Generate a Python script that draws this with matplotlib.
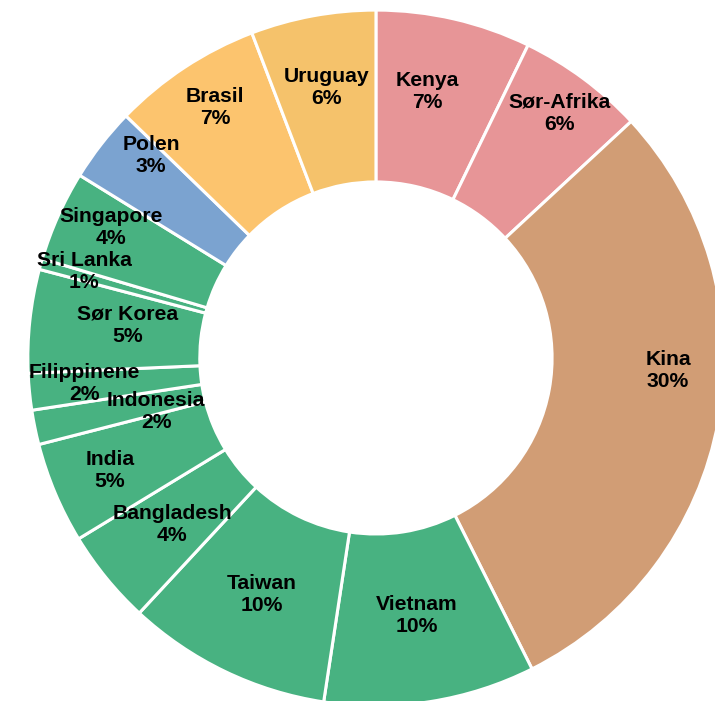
import matplotlib
matplotlib.use('Agg')
import matplotlib.pyplot as plt
import numpy as np

# Shares (clockwise from 12 o'clock)
countries = ['Kenya', 'Sør-Afrika', 'Kina', 'Vietnam', 'Taiwan', 'Bangladesh',
             'India', 'Indonesia', 'Filippinene', 'Sør Korea', 'Sri Lanka',
             'Singapore', 'Polen', 'Brasil', 'Uruguay']
shares = [7.2, 5.9, 29.5, 9.8, 9.5, 4.4, 4.7, 1.6, 1.7, 4.8, 0.5, 4.2, 3.45,
          6.95, 5.8]
pct_text = ['7%', '6%', '30%', '10%', '10%', '4%', '5%', '2%', '2%', '5%',
            '1%', '4%', '3%', '7%', '6%']

# Colours per slice
pink = '#E79597'
tan = '#D19D75'
green = '#48B281'
blue = '#7BA3D0'
colors = [pink, pink, tan, green, green, green, green, green, green, green,
          green, green, blue, '#FCC46E', '#F5C26B']

# Label placement tweaks (radius as fraction of outer radius, shift in % of circle)
label_r = [0.78, 0.88, 0.84, 0.75, 0.755, 0.755, 0.83, 0.65, 0.84, 0.72,
           0.875, 0.85, 0.87, 0.855, 0.79]
label_shift = [-0.6, 0.1, -2.15, 0.0, 0.0, 0.0, 0.0, -0.6, 0.15, 0.4,
               0.25, 0.6, 1.15, 0.2, 0.0]

fig = plt.figure(figsize=(7.15, 7.01), dpi=100)
ax = fig.add_axes([0, 0, 1, 1])

ax.pie(shares, colors=colors, startangle=90, counterclock=False, radius=1.0,
       wedgeprops=dict(width=0.494, edgecolor='white', linewidth=2.2))

total = sum(shares)
cum = np.cumsum([0] + shares[:-1])
for i, name in enumerate(countries):
    frac = (cum[i] + shares[i] / 2 + label_shift[i]) / total
    ang = np.deg2rad(90 - 360 * frac)
    x = label_r[i] * np.cos(ang)
    y = label_r[i] * np.sin(ang)
    ax.text(x, y, f'{name}\n{pct_text[i]}', ha='center', va='center',
            fontsize=15.2, fontweight='bold', family='Liberation Sans',
            color='black', linespacing=1.2)

ax.set_aspect('auto')
ax.set_xlim(-1.080, 0.974)
ax.set_ylim(-0.986, 1.029)
ax.axis('off')

fig.savefig('out.png', dpi=100, facecolor='white')
